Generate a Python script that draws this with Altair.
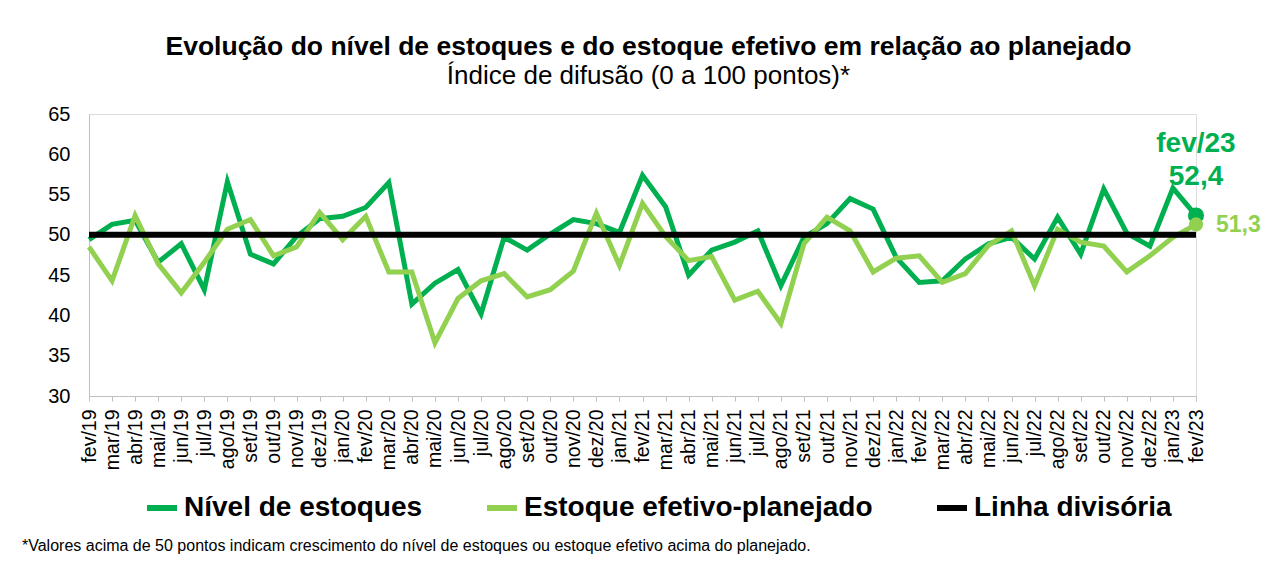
import altair as alt
import pandas as pd

months = ["fev/19", "mar/19", "abr/19", "mai/19", "jun/19", "jul/19", "ago/19", "set/19", "out/19", "nov/19", "dez/19",
          "jan/20", "fev/20", "mar/20", "abr/20", "mai/20", "jun/20", "jul/20", "ago/20", "set/20", "out/20", "nov/20", "dez/20",
          "jan/21", "fev/21", "mar/21", "abr/21", "mai/21", "jun/21", "jul/21", "ago/21", "set/21", "out/21", "nov/21", "dez/21",
          "jan/22", "fev/22", "mar/22", "abr/22", "mai/22", "jun/22", "jul/22", "ago/22", "set/22", "out/22", "nov/22", "dez/22",
          "jan/23", "fev/23"]

nivel = [49.4, 51.3, 51.8, 46.6, 48.9, 43.2, 56.6, 47.6, 46.4, 49.8, 52.0, 52.3, 53.4, 56.5, 41.4, 44.0, 45.7, 40.2,
         49.7, 48.1, 50.1, 51.9, 51.4, 50.3, 57.4, 53.5, 45.0, 48.1, 49.1, 50.5, 43.7, 49.7, 51.4, 54.5, 53.2, 47.2,
         44.1, 44.3, 47.0, 48.9, 49.7, 47.0, 52.2, 47.6, 55.7, 50.2, 48.6, 55.8, 52.4]

efetivo = [48.5, 44.3, 52.4, 46.4, 42.8, 46.6, 50.7, 51.9, 47.4, 48.5, 52.8, 49.4, 52.3, 45.4, 45.4, 36.6, 42.1, 44.3,
           45.2, 42.3, 43.2, 45.5, 52.7, 46.2, 53.9, 49.8, 46.8, 47.3, 41.9, 43.0, 39.0, 48.9, 52.2, 50.5, 45.4, 47.1,
           47.4, 44.1, 45.2, 48.7, 50.5, 43.7, 50.7, 49.1, 48.6, 45.4, 47.4, 49.7, 51.3]

series_names = ["Nível de estoques", "Estoque efetivo-planejado", "Linha divisória"]
series_colors = ["#00B050", "#92D050", "#000000"]
divisoria = 50

title_text = "Evolução do nível de estoques e do estoque efetivo em relação ao planejado"
subtitle_text = "Índice de difusão (0 a 100 pontos)*"
footnote = "*Valores acima de 50 pontos indicam crescimento do nível de estoques ou estoque efetivo acima do planejado."

FONT = "Liberation Sans"

long_df = pd.DataFrame(
    {"mes": months * 2,
     "valor": nivel + efetivo,
     "serie": [series_names[0]] * len(months) + [series_names[1]] * len(months),
     "ordem": [0] * len(months) + [1] * len(months)}
)
rule_df = pd.DataFrame({"inicio": [months[0]], "fim": [months[-1]], "valor": [divisoria], "serie": [series_names[2]]})
last_df = pd.DataFrame({"mes": [months[-1], months[-1]], "valor": [nivel[-1], efetivo[-1]],
                        "serie": [series_names[0], series_names[1]],
                        "rotulo": [f"{nivel[-1]:.1f}".replace(".", ","), f"{efetivo[-1]:.1f}".replace(".", ",")]})
foot_df = pd.DataFrame({"t": [footnote]})

x_enc = alt.X("mes:N", sort=months, title=None,
              scale=alt.Scale(type="point", padding=0, domain=months),
              axis=alt.Axis(labelAngle=270, labelAlign="right", labelBaseline="middle", labelFontSize=19.5,
                            labelFont=FONT, labelColor="#000000", domainColor="#BFBFBF", tickColor="#BFBFBF",
                            tickSize=5, labelPadding=8, grid=False, labelOverlap=False))
y_enc = alt.Y("valor:Q", title=None,
              scale=alt.Scale(domain=[30, 65], nice=False, zero=False),
              axis=alt.Axis(values=[30, 35, 40, 45, 50, 55, 60, 65], labelFontSize=20, labelFont=FONT,
                            labelColor="#000000", domainColor="#BFBFBF", ticks=False, labelPadding=19, grid=False))
color_scale = alt.Scale(domain=series_names, range=series_colors)
legend = alt.Legend(title=None, orient="none", legendX=55, legendY=376, direction="horizontal",
                    symbolType="stroke", symbolStrokeWidth=6, symbolSize=900, labelFontSize=28,
                    labelFont=FONT, labelFontWeight="bold", labelColor="#000000", columnPadding=52,
                    labelOffset=4, padding=0, labelLimit=600)

base = alt.Chart(long_df)
lines = base.mark_line(strokeWidth=5, strokeJoin="miter").encode(
    x=x_enc, y=y_enc,
    color=alt.Color("serie:N", scale=color_scale, legend=legend),
    order=alt.Order("ordem:Q"),
    detail="serie:N",
)
rule = alt.Chart(rule_df).mark_rule(strokeWidth=6).encode(
    x=alt.X("inicio:N", sort=months, scale=alt.Scale(type="point", padding=0, domain=months)),
    x2="fim:N",
    y=alt.Y("valor:Q"),
    color=alt.Color("serie:N", scale=color_scale, legend=legend),
)
points = alt.Chart(last_df).mark_circle(opacity=1).encode(
    x=alt.X("mes:N", sort=months), y="valor:Q",
    color=alt.Color("serie:N", scale=color_scale, legend=legend),
    size=alt.condition(alt.datum.serie == series_names[0], alt.value(260), alt.value(200)),
)
lab_dark_mes = alt.Chart(last_df[last_df.serie == series_names[0]]).mark_text(
    fontSize=28, fontWeight="bold", font=FONT, color="#00B050", dy=-72, align="center", baseline="middle"
).encode(x=alt.X("mes:N", sort=months), y="valor:Q", text=alt.value(months[-1]))
lab_dark_val = alt.Chart(last_df[last_df.serie == series_names[0]]).mark_text(
    fontSize=28, fontWeight="bold", font=FONT, color="#00B050", dy=-39, align="center", baseline="middle"
).encode(x=alt.X("mes:N", sort=months), y="valor:Q", text="rotulo:N")
lab_light_val = alt.Chart(last_df[last_df.serie == series_names[1]]).mark_text(
    fontSize=23, fontWeight="bold", font=FONT, color="#92D050", dx=20, dy=1, align="left", baseline="middle"
).encode(x=alt.X("mes:N", sort=months), y="valor:Q", text="rotulo:N")
foot = alt.Chart(foot_df).mark_text(fontSize=16, font=FONT, color="#000000", align="left", baseline="middle").encode(
    x=alt.value(-67), y=alt.value(432), text="t:N")

chart = alt.layer(lines, rule, points, lab_dark_mes, lab_dark_val, lab_light_val, foot).properties(
    width=1107, height=282,
    autosize=alt.AutoSizeParams(type="none"),
    padding={"left": 81, "top": 106, "right": 74, "bottom": 159},
    title=alt.TitleParams(text=title_text, subtitle=subtitle_text, anchor="middle", frame="group",
                          font=FONT, fontSize=26.5, fontWeight="bold", color="#000000",
                          subtitleFont=FONT, subtitleFontSize=26, subtitleColor="#000000",
                          subtitlePadding=3, offset=15, dx=6),
).configure_view(stroke="transparent").configure(background="white")

chart.save("out.html", embed_options={"renderer": "svg", "actions": False})
